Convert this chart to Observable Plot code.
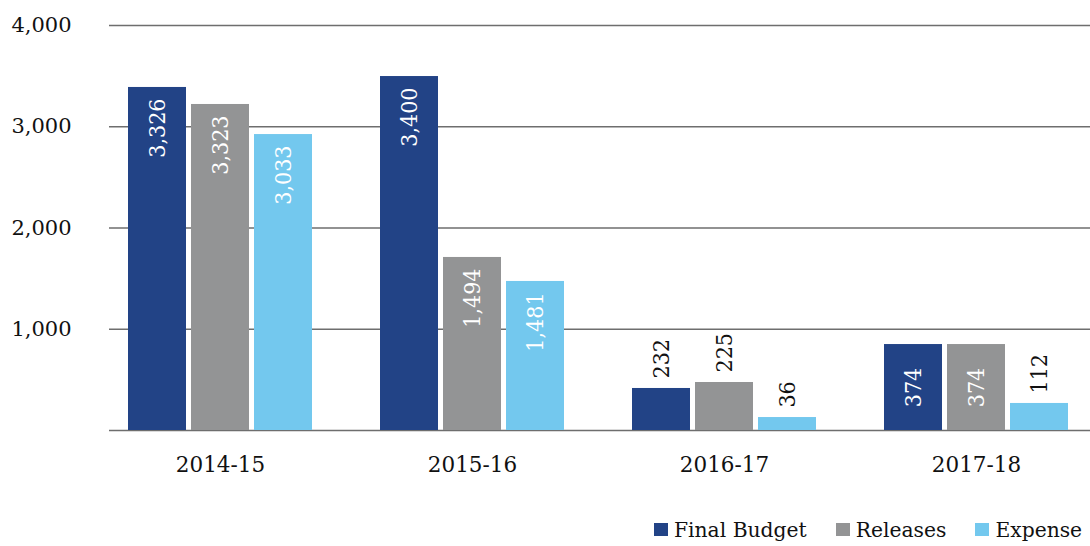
<!DOCTYPE html>
<html>
<head>
<meta charset="utf-8">
<script src="https://cdn.jsdelivr.net/npm/d3@7"></script>
<script src="https://cdn.jsdelivr.net/npm/@observablehq/plot@0.6"></script>
<style>
  html, body { margin: 0; padding: 0; background: #fff; overflow: hidden; }
  #wrap { position: relative; width: 1090px; height: 546px; overflow: hidden; background: #fff; }
  #legend { position: absolute; left: 654px; top: 518px; display: flex; align-items: center; white-space: nowrap;
            font-family: "DejaVu Serif", serif; font-size: 20.3px; color: #111; }
  #legend .item { display: flex; align-items: center; margin-right: 29px; }
  #legend .sw { width: 14px; height: 13px; margin-right: 6px; margin-top: -1px; }
</style>
</head>
<body>
<div id="wrap"><div id="chart"></div><div id="legend"></div></div>
<script>
const years = ["2014-15", "2015-16", "2016-17", "2017-18"];
const series = ["Final Budget", "Releases", "Expense"];
const colors = ["#224386", "#939495", "#73c8ee"];
// bar heights as drawn
const finalBudgetBars = [3388, 3496, 415, 849];
const releasesBars = [3220, 1709, 474, 849];
const expenseBars = [2923, 1472, 128, 267];
// printed data labels
const finalBudgetLabels = [3326, 3400, 232, 374];
const releasesLabels = [3323, 1494, 225, 374];
const expenseLabels = [3033, 1481, 36, 112];
const yTicks = [1000, 2000, 3000, 4000];
const gridValues = [0, 1000, 2000, 3000, 4000];

const barsBySeries = [finalBudgetBars, releasesBars, expenseBars];
const labelsBySeries = [finalBudgetLabels, releasesLabels, expenseLabels];

const rows = [];
years.forEach((y, i) => series.forEach((s, j) => {
  rows.push({key: y + "|" + s, year: y, series: s, value: barsBySeries[j][i], label: labelsBySeries[j][i]});
}));
const xDomain = years.flatMap((y, i) => [
  ...series.map(s => y + "|" + s),
  ...(i < years.length - 1 ? [y + "|gap"] : [])
]);

const fmt = d3.format(",");
const axisFont = "'DejaVu Serif', serif";
const labelFont = "'DejaVu Serif Condensed', 'Liberation Serif', serif";

const tall = rows.filter(d => d.value >= 1000);
const mid = rows.filter(d => d.value >= 600 && d.value < 1000);
const small = rows.filter(d => d.value < 600);

const chart = Plot.plot({
  width: 1090,
  height: 500,
  marginLeft: 109,
  marginRight: 0,
  marginTop: 25,
  marginBottom: 70,
  style: {background: "#fff", color: "#111", overflow: "visible"},
  x: {type: "band", domain: xDomain, range: [127, 1069], paddingInner: 0.081, paddingOuter: 0, axis: null},
  y: {domain: [0, 4000], range: [430, 25], axis: null},
  color: {domain: series, range: colors},
  marks: [
    Plot.ruleY(gridValues, {stroke: "#6e6e6e", strokeWidth: 1.3}),
    Plot.barY(rows, {x: "key", y: "value", fill: "series"}),
    Plot.axisY({ticks: yTicks, tickSize: 0, tickPadding: 38, tickFormat: fmt, fontSize: 21, fontFamily: axisFont, label: null}),
    Plot.text(years, {x: d => d + "|Releases", y: () => 0, dy: 35, text: d => d, fontSize: 21.5, fontFamily: axisFont, fill: "#111"}),
    Plot.text(tall, {x: "key", y: "value", text: d => fmt(d.label), rotate: -90, textAnchor: "end", dy: 11, fill: "#fff", fontSize: 23, fontFamily: labelFont}),
    Plot.text(mid, {x: "key", y: d => d.value / 2, text: d => fmt(d.label), rotate: -90, textAnchor: "middle", fill: "#fff", fontSize: 23, fontFamily: labelFont}),
    Plot.text(small, {x: "key", y: "value", text: d => fmt(d.label), rotate: -90, textAnchor: "start", dy: -10, fill: "#111", fontSize: 23, fontFamily: labelFont})
  ]
});
document.getElementById("chart").appendChild(chart);

const legend = document.getElementById("legend");
series.forEach((s, j) => {
  const item = document.createElement("div");
  item.className = "item";
  const sw = document.createElement("span");
  sw.className = "sw";
  sw.style.background = colors[j];
  const t = document.createElement("span");
  t.textContent = s;
  item.appendChild(sw);
  item.appendChild(t);
  legend.appendChild(item);
});
</script>
</body>
</html>
